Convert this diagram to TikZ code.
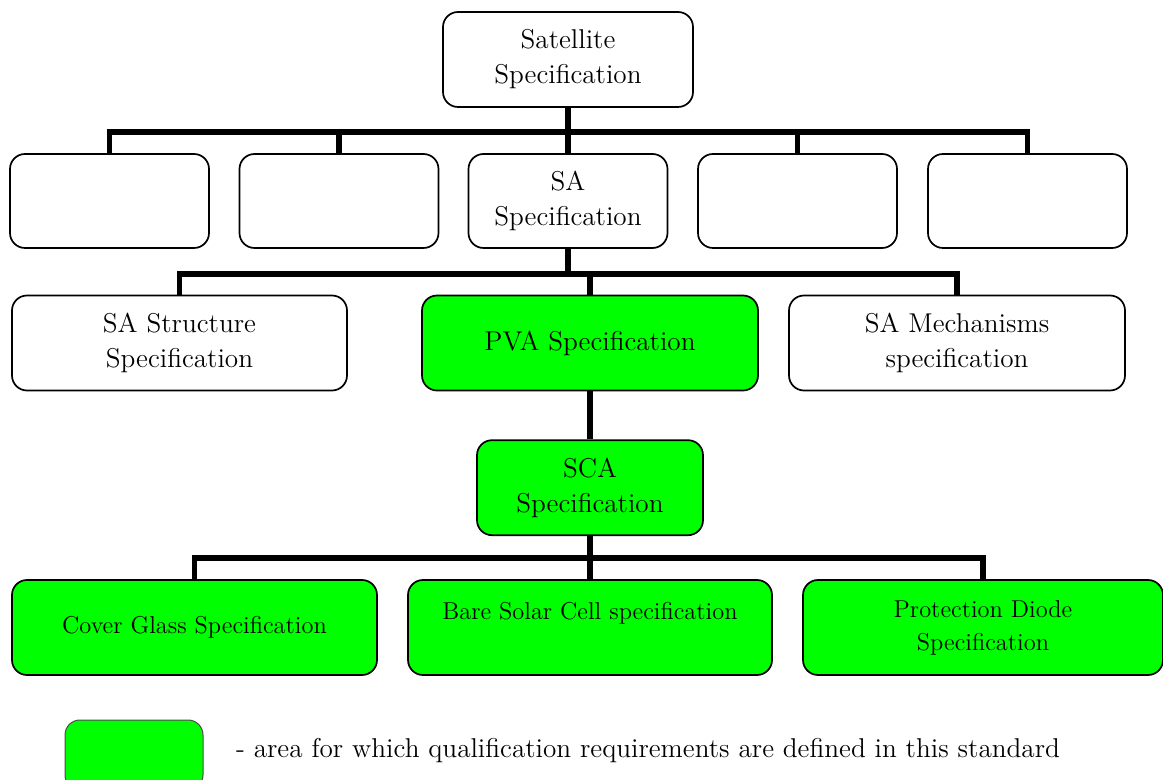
\documentclass[tikz,border=0pt]{standalone}
\usepackage{tikz}
\usetikzlibrary{calc,positioning}
\definecolor{qualgreen}{RGB}{0,255,0}

\begin{document}
\begin{tikzpicture}[x=0.5pt,y=-0.5pt,
    spec/.style={draw, rounded corners=7.5pt, line width=0.85pt, align=center,
                 inner sep=2pt, minimum height=47.5pt,
                 font=\fontsize{13.6}{17.5}\selectfont},
    qual/.style={spec, fill=qualgreen},
    blank/.style={spec, minimum width=99.5pt, minimum height=47pt},
    small/.style={font=\fontsize{12.2}{16.5}\selectfont},
    bus/.style={line width=2.6pt}]

    \useasboundingbox (0,0) rectangle (1163,780);
    \clip (0,0) rectangle (1163,780);

    \node[spec, minimum width=125pt] (sat) at (568,59.5) {Satellite\\Specification};

    \node[blank] (sub-1) at (109.5,201) {};
    \node[blank] (sub-2) at (339,201)   {};
    \node[blank] (sa)    at (568,201)   {SA\\Specification};
    \node[blank] (sub-4) at (797.5,201) {};
    \node[blank] (sub-5) at (1027.5,201) {};

    \node[spec, minimum width=167.5pt] (struct) at (179.5,343) {SA Structure\\Specification};
    \node[qual, minimum width=168pt]   (pva)    at (590,343)   {PVA Specification};
    \node[spec, minimum width=168pt]   (mech)   at (957,343)   {SA Mechanisms\\specification};

    \node[qual, minimum width=113pt]   (sca)    [below=24pt of pva] {SCA\\Specification};

    \node[qual, small, minimum width=182.5pt] (cover) at (194.5,627.5) {Cover Glass Specification};
    \node[qual, small, minimum width=182pt, text depth=17pt] (bare) at (590,627.5) {Bare Solar Cell specification};
    \node[qual, small, minimum width=180pt] (diode) at (983,627.5) {Protection Diode\\Specification};

    \node[qual, draw=black!70, line width=0.5pt, minimum width=69pt, minimum height=35pt] (key) at (134,755) {};
    \node[anchor=base west, font=\fontsize{13.6}{17.5}\selectfont] (key-text) at (229,757)
        {- area for which qualification requirements are defined in this standard};

    \coordinate (bus-1) at (568,132);
    \coordinate (bus-2) at (568,274);
    \coordinate (bus-3) at (590,558);

    \draw[bus] (sat) -- (bus-1);
    \draw[bus] (bus-1) -| (sub-1.north);
    \draw[bus] (bus-1) -| (sub-2.north);
    \draw[bus] (bus-1) -- (sa.north);
    \draw[bus] (bus-1) -| (sub-4.north);
    \draw[bus] (bus-1) -| (sub-5.north);

    \draw[bus] (sa) -- (bus-2);
    \draw[bus] (bus-2) -| (struct.north);
    \draw[bus] (bus-2) -| (pva.north);
    \draw[bus] (bus-2) -| (mech.north);

    \draw[bus] (pva) -- (sca);

    \draw[bus] (sca) -- (bus-3);
    \draw[bus] (bus-3) -| (cover.north);
    \draw[bus] (bus-3) -- (bare.north);
    \draw[bus] (bus-3) -| (diode.north);

\end{tikzpicture}
\end{document}
